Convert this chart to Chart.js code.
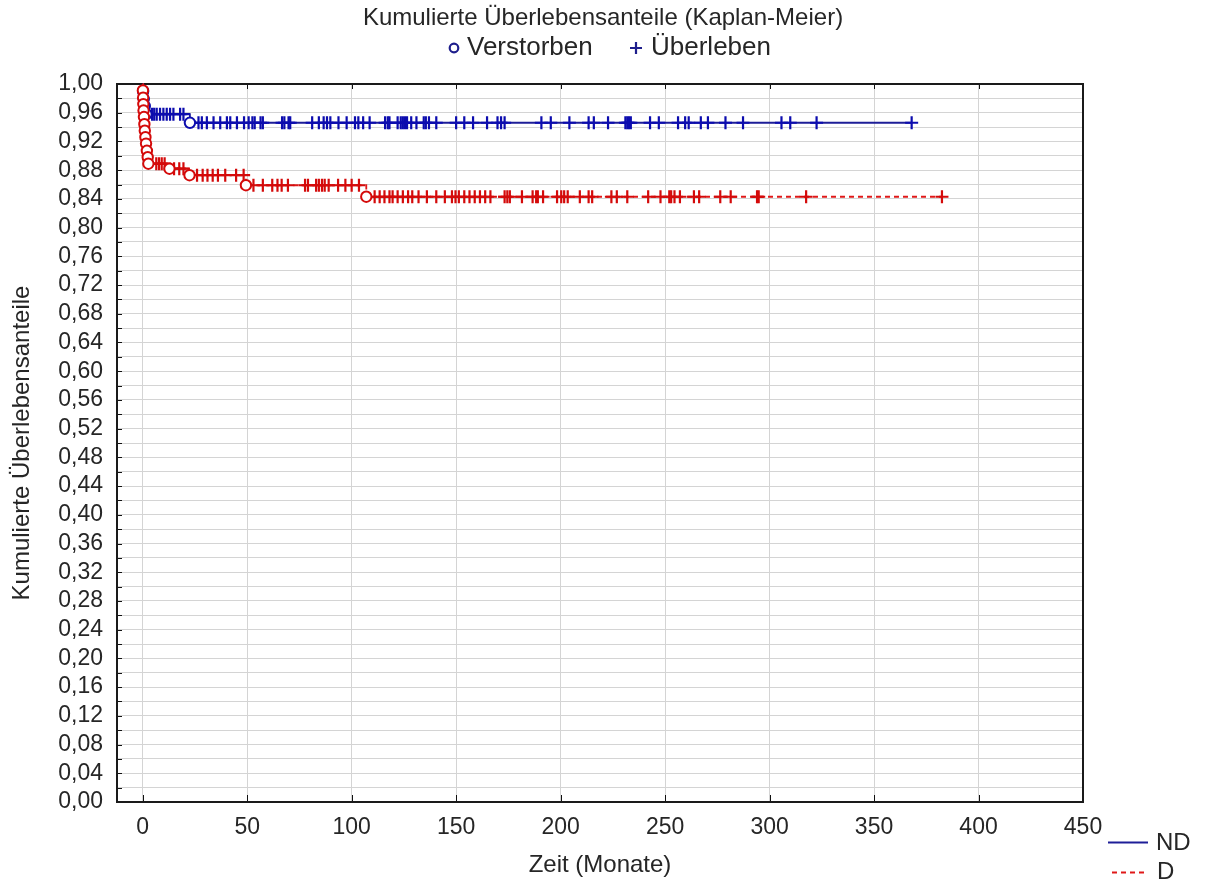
<!DOCTYPE html>
<html>
<head>
<meta charset="utf-8">
<title>Kumulierte Überlebensanteile (Kaplan-Meier)</title>
<script src="https://cdn.jsdelivr.net/npm/chart.js@4/dist/chart.umd.min.js"></script>
<style>
  html, body { margin: 0; padding: 0; background: #fff; }
  canvas { display: block; }
</style>
</head>
<body>
<canvas id="km" width="1209" height="888"></canvas>
<script>
// ---- Kaplan-Meier estimates for the two groups ----
const groupLabels = ['ND', 'D'];
const markerLabels = ['Verstorben', 'Überleben'];
const chartTitle = 'Kumulierte Überlebensanteile (Kaplan-Meier)';
const xTitle = 'Zeit (Monate)';
const yTitle = 'Kumulierte Überlebensanteile';
const xTickValues = [0, 50, 100, 150, 200, 250, 300, 350, 400, 450];

// ND: event times (months) and survival after each event
const ndEventTimes = [0.2, 0.5, 1.0, 1.8, 22.6];
const ndSurvival   = [0.990, 0.979, 0.969, 0.958, 0.946];
// ND: censored observations (months)
const ndCensorTimes = [
  4.5, 5.5, 6.7, 8.3, 9.9, 11.5, 13.1, 14.7, 17.9, 19.5,
  26.7, 28.3, 30.7, 33.9, 37.1, 40.3, 41.9, 45.1, 48.5, 50.7, 52.5, 53.6, 56.4, 57.5,
  66.7, 67.8, 69.8, 70.6, 81.1, 84.3, 86.6, 88.2, 89.8, 93.7, 97.6, 101.6, 103.2, 105.5,
  108.6, 116, 117.3, 118.1, 122, 123.5, 124.5, 125.5, 126.5, 128.5, 131, 134.5, 135.5,
  137, 140.5, 150, 153.9, 158.1, 164.8, 169.8, 171.5, 173.2, 190.8, 195.3, 204.2, 213.4,
  215.9, 222.7, 231, 231.9, 232.7, 233.6, 242.8, 247, 256.2, 259.6, 261.3, 267.1, 270.5,
  278.9, 287.3, 305.7, 309.9, 322.5, 368
];

// D: event times (months) and survival after each event
const dEventTimes = [0.1, 0.2, 0.3, 0.4, 0.6, 0.8, 1.0, 1.3, 1.6, 2.0, 2.4, 2.7, 12.8, 22.4, 49.4, 107];
const dSurvival   = [0.991, 0.981, 0.972, 0.963, 0.954, 0.944, 0.935, 0.926, 0.917, 0.907, 0.898, 0.889, 0.882, 0.873, 0.859, 0.843];
// D: censored observations (months)
const dCensorTimes = [
  6.5, 7.8, 9.1, 10.5, 15, 17.5, 19.5,
  26, 28.7, 31, 33.5, 36, 39.5, 44.7, 48.3,
  53, 57.5, 62, 64.5, 66.5, 69.5, 77.7, 79.1, 83, 84.3, 85.8, 87.1, 89, 93.5, 97, 100, 103.5,
  111, 113.4, 115.7, 118.1, 119.6, 122, 124.5, 127, 129, 132, 136, 140.5, 144.6, 148, 149.7,
  151.3, 153.9, 156.4, 158.9, 161.4, 163.9, 166.4, 173.2, 174.5, 175.7, 181.5, 186.6, 188.3,
  189.1, 191.6, 198.3, 200.3, 201.7, 203.4, 209.2, 213.4, 215.1, 224.3, 226.9, 231.9, 241.9,
  247.8, 252, 252.9, 254.5, 257.1, 263.8, 266.3, 276.4, 281.4, 294, 294.8, 317.5, 382.5
];

// ---- helpers ----
const FONT = '"Liberation Sans", Arial, Helvetica, sans-serif';
const TEXT = '#262626';
const BLUE_LINE = '#1e1e98';
const BLUE_MARK = '#0c0cae';
const RED_LINE = '#e01818';
const RED_MARK = '#d40a0a';

// survival level in effect at time t
function levelAt(times, surv, t) {
  let s = 1;
  for (let i = 0; i < times.length; i++) if (times[i] <= t) s = surv[i];
  return s;
}
function curve(times, surv, censors) {
  const pts = [{ x: 0, y: 1 }];
  times.forEach((t, i) => pts.push({ x: t, y: surv[i] }));
  const end = Math.max(censors[censors.length - 1], times[times.length - 1]);
  pts.push({ x: end, y: surv[surv.length - 1] });
  return pts;
}
const events = (times, surv) => times.map((t, i) => ({ x: t, y: surv[i] }));
const censored = (times, surv, cens) => cens.map(t => ({ x: t, y: levelAt(times, surv, t) }));

// frame, inward tick marks, title and legends
const decorations = {
  id: 'decorations',
  beforeDatasetsDraw(chart) {
    const { ctx, chartArea: a, scales: { x, y } } = chart;
    ctx.save();
    ctx.strokeStyle = '#111';
    ctx.lineWidth = 1;
    ctx.beginPath();
    y.ticks.forEach(t => {
      const py = Math.round(y.getPixelForValue(t.value)) + 0.5;
      ctx.moveTo(a.left, py); ctx.lineTo(a.left + 5, py);
    });
    x.ticks.forEach(t => {
      const px = Math.round(x.getPixelForValue(t.value)) + 0.5;
      ctx.moveTo(px, a.bottom); ctx.lineTo(px, a.bottom - 7);
      ctx.moveTo(px, a.top); ctx.lineTo(px, a.top + 5);
    });
    ctx.stroke();
    ctx.lineWidth = 2;
    ctx.strokeStyle = '#1a1a1a';
    ctx.strokeRect(a.left, a.top, a.right - a.left, a.bottom - a.top);
    ctx.restore();
  },
  afterDraw(chart) {
    const { ctx } = chart;
    ctx.save();
    ctx.fillStyle = TEXT;
    ctx.textBaseline = 'middle';

    // title
    ctx.font = `24px ${FONT}`;
    ctx.textAlign = 'center';
    ctx.fillText(chartTitle, 603, 18);

    // marker legend
    ctx.font = `26px ${FONT}`;
    ctx.textAlign = 'left';
    ctx.strokeStyle = '#1e1e8c';
    ctx.lineWidth = 2.2;
    ctx.beginPath(); ctx.arc(454, 48, 4.3, 0, Math.PI * 2); ctx.stroke();
    ctx.fillText(markerLabels[0], 467, 48);
    ctx.beginPath();
    ctx.moveTo(636, 42); ctx.lineTo(636, 54);
    ctx.moveTo(630, 48); ctx.lineTo(642, 48);
    ctx.stroke();
    ctx.fillText(markerLabels[1], 651, 48);

    // group legend
    ctx.font = `24px ${FONT}`;
    ctx.lineWidth = 1.8;
    ctx.strokeStyle = BLUE_LINE;
    ctx.beginPath(); ctx.moveTo(1108, 842.5); ctx.lineTo(1148, 842.5); ctx.stroke();
    ctx.fillText(groupLabels[0], 1156, 843);
    ctx.strokeStyle = RED_LINE;
    ctx.setLineDash([5, 4]);
    ctx.beginPath(); ctx.moveTo(1112, 872.5); ctx.lineTo(1148, 872.5); ctx.stroke();
    ctx.setLineDash([]);
    ctx.fillText(groupLabels[1], 1157, 872);
    ctx.restore();
  }
};

const ctx = document.getElementById('km').getContext('2d');
new Chart(ctx, {
  type: 'scatter',
  data: {
    datasets: [
      {
        label: groupLabels[1] + ' ' + markerLabels[0],
        data: events(dEventTimes, dSurvival),
        showLine: false, pointStyle: 'circle', pointRadius: 5.2, borderWidth: 2,
        borderColor: RED_MARK, backgroundColor: '#ffffff', clip: false, order: 1
      },
      {
        label: groupLabels[1] + ' ' + markerLabels[1],
        data: censored(dEventTimes, dSurvival, dCensorTimes),
        showLine: false, pointStyle: 'cross', pointRadius: 6.5, borderWidth: 2.2,
        borderColor: RED_MARK, clip: false, order: 2
      },
      {
        label: groupLabels[1],
        data: curve(dEventTimes, dSurvival, dCensorTimes),
        showLine: true, stepped: true, pointRadius: 0, borderWidth: 1.8,
        borderColor: RED_LINE, borderDash: [5, 4], fill: false, clip: false, order: 3
      },
      {
        label: groupLabels[0] + ' ' + markerLabels[0],
        data: events(ndEventTimes, ndSurvival),
        showLine: false, pointStyle: 'circle', pointRadius: 5.2, borderWidth: 2,
        borderColor: BLUE_MARK, backgroundColor: '#ffffff', clip: false, order: 4
      },
      {
        label: groupLabels[0] + ' ' + markerLabels[1],
        data: censored(ndEventTimes, ndSurvival, ndCensorTimes),
        showLine: false, pointStyle: 'cross', pointRadius: 6.5, borderWidth: 2.2,
        borderColor: BLUE_MARK, clip: false, order: 5
      },
      {
        label: groupLabels[0],
        data: curve(ndEventTimes, ndSurvival, ndCensorTimes),
        showLine: true, stepped: true, pointRadius: 0, borderWidth: 1.8,
        borderColor: BLUE_LINE, fill: false, clip: false, order: 6
      }
    ]
  },
  options: {
    responsive: false,
    animation: false,
    events: [],
    layout: { padding: { left: 0, top: 84, right: 126, bottom: 0 } },
    plugins: { legend: { display: false }, title: { display: false }, tooltip: { enabled: false } },
    scales: {
      x: {
        type: 'linear',
        min: -12.3, max: 450,
        afterFit: s => { s.height = 86; },
        afterBuildTicks: s => { s.ticks = xTickValues.map(v => ({ value: v })); },
        ticks: {
          includeBounds: false, autoSkip: false, maxRotation: 0, padding: 12,
          color: TEXT, font: { family: FONT, size: 23 },
          callback: v => String(v)
        },
        grid: { color: '#d4d4d4', lineWidth: 1, drawTicks: false },
        border: { display: false },
        title: { display: true, text: xTitle, color: TEXT, font: { family: FONT, size: 24 }, padding: { top: 0, bottom: 8 } }
      },
      y: {
        type: 'linear',
        min: 0, max: 1,
        afterFit: s => { s.width = 117; },
        ticks: {
          stepSize: 0.02, autoSkip: false, padding: 14,
          color: TEXT, font: { family: FONT, size: 23 },
          callback: v => (Math.round(v * 100) % 4 === 0 ? v.toFixed(2).replace('.', ',') : '')
        },
        grid: { color: '#d4d4d4', lineWidth: 1, drawTicks: false },
        border: { display: false },
        title: { display: true, text: yTitle, color: TEXT, font: { family: FONT, size: 24 }, padding: { top: 8, bottom: 0 } }
      }
    }
  },
  plugins: [decorations]
});
</script>
</body>
</html>
